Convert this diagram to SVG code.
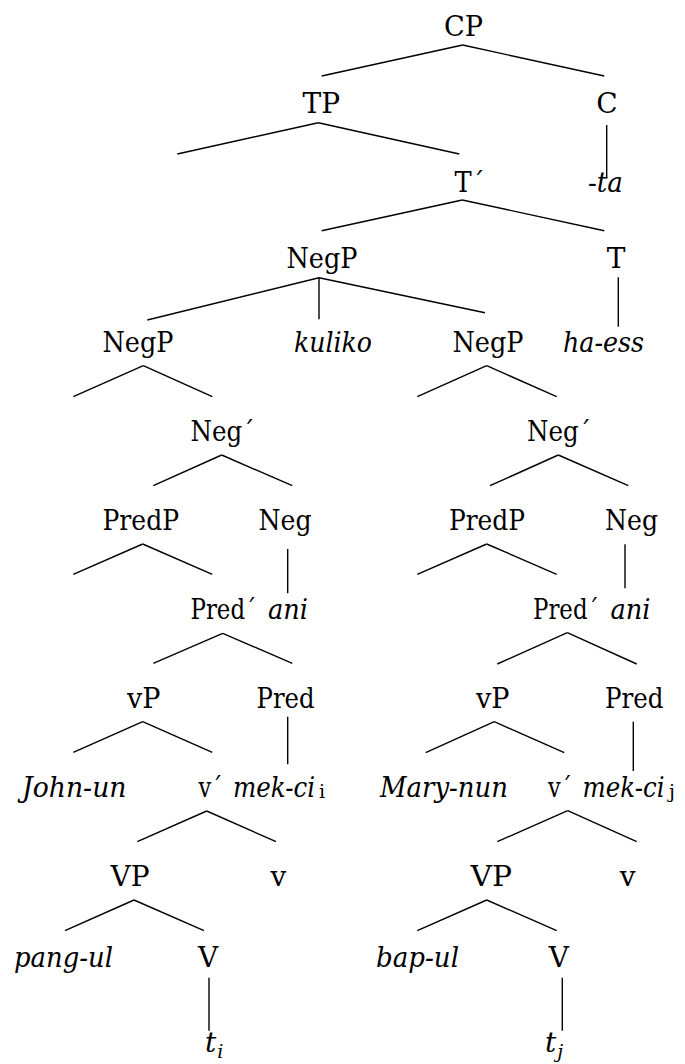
<svg xmlns="http://www.w3.org/2000/svg" width="685" height="1064" viewBox="0 0 685 1064">
<style>
text{font-family:"DejaVu Serif",serif;font-size:28px;fill:#000}
.m{text-anchor:middle}
.i{font-style:italic}
.sub{font-size:19px;font-style:normal}
.subi{font-size:19px;font-style:italic}
line{stroke:#000;stroke-width:1.4}
</style>
<rect width="685" height="1064" fill="#fff"/>
<g id="connectors">
<line x1="462.7" y1="45" x2="321.7" y2="76"/><line x1="462.7" y1="45" x2="604.3" y2="76"/>
<line x1="318.3" y1="122.7" x2="177.3" y2="154"/><line x1="318.3" y1="122.7" x2="459.3" y2="154"/>
<line x1="606.7" y1="125" x2="606.7" y2="178.3"/>
<line x1="462.3" y1="200" x2="321.7" y2="230.7"/><line x1="462.3" y1="200" x2="604.3" y2="230.7"/>
<line x1="319" y1="277.7" x2="147.3" y2="320"/><line x1="319" y1="277.7" x2="319" y2="319.3"/><line x1="319" y1="277.7" x2="485" y2="312.7"/>
<line x1="618.3" y1="277.3" x2="618.3" y2="326.7"/>
<line x1="143.3" y1="365.7" x2="73.3" y2="396.7"/><line x1="143.3" y1="365.7" x2="212.3" y2="396.7"/>
<line x1="486.7" y1="365.7" x2="417.3" y2="396.7"/><line x1="486.7" y1="365.7" x2="556.7" y2="396.7"/>
<line x1="221.7" y1="455" x2="153.3" y2="485.7"/><line x1="221.7" y1="455" x2="292.3" y2="485.7"/>
<line x1="558.3" y1="455" x2="490" y2="485.7"/><line x1="558.3" y1="455" x2="628.3" y2="485.7"/>
<line x1="142.7" y1="544" x2="73.3" y2="574.3"/><line x1="142.7" y1="544" x2="212.3" y2="574.3"/>
<line x1="486.7" y1="544" x2="417.3" y2="574.3"/><line x1="486.7" y1="544" x2="556.7" y2="574.3"/>
<line x1="287.7" y1="549" x2="287.7" y2="593.3"/>
<line x1="625" y1="544.3" x2="625" y2="588.3"/>
<line x1="222.7" y1="633.3" x2="153.3" y2="663.3"/><line x1="222.7" y1="633.3" x2="292.3" y2="663.3"/>
<line x1="567.3" y1="632.7" x2="497.3" y2="664"/><line x1="567.3" y1="632.7" x2="636.7" y2="664"/>
<line x1="142.7" y1="721.7" x2="73.3" y2="752.3"/><line x1="142.7" y1="721.7" x2="212.3" y2="752.3"/>
<line x1="494.3" y1="721.7" x2="425.7" y2="752.7"/><line x1="494.3" y1="721.7" x2="564.3" y2="752.7"/>
<line x1="287.7" y1="716.7" x2="287.7" y2="764.3"/>
<line x1="633.3" y1="721.7" x2="633.3" y2="771"/>
<line x1="206.7" y1="811" x2="137.3" y2="841.7"/><line x1="206.7" y1="811" x2="276" y2="841.7"/>
<line x1="567.7" y1="810.7" x2="497.3" y2="841.7"/><line x1="567.7" y1="810.7" x2="636.7" y2="841.7"/>
<line x1="134" y1="900" x2="65" y2="930.7"/><line x1="134" y1="900" x2="204" y2="930.7"/>
<line x1="486.7" y1="900" x2="417.3" y2="930.7"/><line x1="486.7" y1="900" x2="556.7" y2="930.7"/>
<line x1="209" y1="977.7" x2="209" y2="1030.7"/>
<line x1="562.3" y1="977.7" x2="562.3" y2="1030.7"/>
</g>
<g id="n-CP"><text x="444" y="36" textLength="39" lengthAdjust="spacingAndGlyphs">CP</text></g>
<g id="n-TP"><text x="302.5" y="113" textLength="37.5" lengthAdjust="spacingAndGlyphs">TP</text></g>
<g id="n-C"><text class="m" x="607" y="113">C</text></g>
<g id="n-ta"><text x="588" y="192" textLength="35" lengthAdjust="spacingAndGlyphs">-<tspan class="i">ta</tspan></text></g>
<g id="n-Tbar"><text x="454.5" y="192" textLength="30" lengthAdjust="spacingAndGlyphs">T´</text></g>
<g id="n-NegP"><text x="286.5" y="268" textLength="71" lengthAdjust="spacingAndGlyphs">NegP</text></g>
<g id="n-T"><text class="m" x="616" y="268">T</text></g>
<g id="n-NegP1"><text x="102.5" y="352" textLength="71" lengthAdjust="spacingAndGlyphs">NegP</text></g>
<g id="n-kuliko"><text class="i" x="294" y="352" textLength="78" lengthAdjust="spacingAndGlyphs">kuliko</text></g>
<g id="n-NegP2"><text x="452.5" y="352" textLength="71" lengthAdjust="spacingAndGlyphs">NegP</text></g>
<g id="n-haess"><text class="i" x="563" y="352" textLength="81" lengthAdjust="spacingAndGlyphs">ha-ess</text></g>
<g id="n-Negbar1"><text x="190.5" y="441" textLength="64" lengthAdjust="spacingAndGlyphs">Neg´</text></g>
<g id="n-Negbar2"><text x="527" y="441" textLength="64" lengthAdjust="spacingAndGlyphs">Neg´</text></g>
<g id="n-PredP1"><text x="102.5" y="530" textLength="76.5" lengthAdjust="spacingAndGlyphs">PredP</text></g>
<g id="n-Neg1"><text x="258.5" y="530" textLength="53" lengthAdjust="spacingAndGlyphs">Neg</text></g>
<g id="n-PredP2"><text x="449" y="530" textLength="76" lengthAdjust="spacingAndGlyphs">PredP</text></g>
<g id="n-Neg2"><text x="605" y="530" textLength="53" lengthAdjust="spacingAndGlyphs">Neg</text></g>
<g id="n-Predbar1"><text x="190.5" y="618.5"><tspan textLength="66" lengthAdjust="spacingAndGlyphs">Pred´</tspan><tspan class="i" x="268" textLength="40" lengthAdjust="spacingAndGlyphs">ani</tspan></text></g>
<g id="n-Predbar2"><text x="533" y="619"><tspan textLength="66" lengthAdjust="spacingAndGlyphs">Pred´</tspan><tspan class="i" x="610.5" textLength="40" lengthAdjust="spacingAndGlyphs">ani</tspan></text></g>
<g id="n-vP1"><text x="127" y="707.5" textLength="33.5" lengthAdjust="spacingAndGlyphs">vP</text></g>
<g id="n-Pred1"><text x="256.5" y="707.5" textLength="58" lengthAdjust="spacingAndGlyphs">Pred</text></g>
<g id="n-vP2"><text x="476" y="708" textLength="33.5" lengthAdjust="spacingAndGlyphs">vP</text></g>
<g id="n-Pred2"><text x="605" y="708" textLength="58.5" lengthAdjust="spacingAndGlyphs">Pred</text></g>
<g id="n-John"><text class="i" x="22" y="797" textLength="104.5" lengthAdjust="spacingAndGlyphs">John-un</text></g>
<g id="n-vbar1"><text x="198.5" y="797"><tspan textLength="24" lengthAdjust="spacingAndGlyphs">v´</tspan><tspan class="i" x="233" textLength="82" lengthAdjust="spacingAndGlyphs">mek-ci</tspan><tspan class="sub" x="319" dy="1">i</tspan></text></g>
<g id="n-Mary"><text class="i" x="380" y="797" textLength="128" lengthAdjust="spacingAndGlyphs">Mary-nun</text></g>
<g id="n-vbar2"><text x="548" y="797"><tspan textLength="24" lengthAdjust="spacingAndGlyphs">v´</tspan><tspan class="i" x="582.5" textLength="82" lengthAdjust="spacingAndGlyphs">mek-ci</tspan><tspan class="sub" x="669" dy="1">j</tspan></text></g>
<g id="n-VP1"><text x="110.5" y="886" textLength="39" lengthAdjust="spacingAndGlyphs">VP</text></g>
<g id="n-v1"><text class="m" x="278.3" y="886">v</text></g>
<g id="n-VP2"><text x="470.5" y="886" textLength="41.5" lengthAdjust="spacingAndGlyphs">VP</text></g>
<g id="n-v2"><text class="m" x="627.7" y="886">v</text></g>
<g id="n-pang"><text class="i" x="14" y="967" textLength="99" lengthAdjust="spacingAndGlyphs">pang-ul</text></g>
<g id="n-V1"><text class="m" x="208" y="967">V</text></g>
<g id="n-bap"><text class="i" x="376" y="967" textLength="83" lengthAdjust="spacingAndGlyphs">bap-ul</text></g>
<g id="n-V2"><text class="m" x="558.8" y="967">V</text></g>
<g id="n-ti"><text class="i" x="205" y="1052">t<tspan class="subi" dx="1" dy="6">i</tspan></text></g>
<g id="n-tj"><text class="i" x="545" y="1052">t<tspan class="subi" dx="1" dy="6">j</tspan></text></g>
</svg>
